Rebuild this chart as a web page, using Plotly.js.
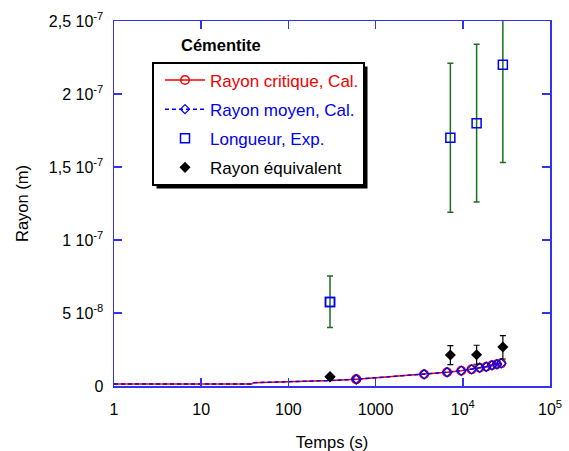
<!DOCTYPE html>
<html><head><meta charset="utf-8">
<script src="https://cdn.plot.ly/plotly-3.0.1.min.js"></script>
<style>html,body{margin:0;padding:0;background:#fff}#c{width:569px;height:451px}</style>
</head><body><div id="c"></div>
<script>
// Calculated curves (time in s, radius in m)
const calcT = [1, 38, 40, 100, 300, 600, 3600, 6600, 9600, 12600, 15600, 18600, 21600, 24600, 27600];
const critR = [1.4e-9, 1.4e-9, 2.3e-9, 2.8e-9, 3.7e-9, 4.6e-9, 8.0e-9, 9.4e-9, 1.05e-8, 1.14e-8, 1.25e-8, 1.32e-8, 1.42e-8, 1.49e-8, 1.55e-8];
const moyR  = [1.4e-9, 1.4e-9, 2.3e-9, 2.8e-9, 3.7e-9, 4.6e-9, 8.0e-9, 9.4e-9, 1.05e-8, 1.14e-8, 1.25e-8, 1.32e-8, 1.42e-8, 1.49e-8, 1.55e-8];
const markT = [600, 3600, 6600, 9600, 12600, 15600, 18600, 21600, 24600, 27600];
const markCrit = [4.6e-9, 8.0e-9, 9.4e-9, 1.05e-8, 1.14e-8, 1.25e-8, 1.32e-8, 1.42e-8, 1.49e-8, 1.55e-8];
const markMoy  = [4.6e-9, 8.0e-9, 9.4e-9, 1.05e-8, 1.14e-8, 1.25e-8, 1.32e-8, 1.42e-8, 1.49e-8, 1.55e-8];
// Experimental length
const expT  = [300, 7200, 14400, 28800];
const expL  = [5.75e-8, 1.70e-7, 1.80e-7, 2.20e-7];
const expHi = [7.53e-8, 2.21e-7, 2.34e-7, 2.87e-7];
const expLo = [4.0e-8, 1.19e-7, 1.26e-7, 1.53e-7];
// Equivalent radius
const eqT  = [300, 7200, 14400, 28800];
const eqR  = [6.4e-9, 2.12e-8, 2.14e-8, 2.67e-8];
const eqHi = [6.4e-9, 2.77e-8, 2.79e-8, 3.45e-8];
const eqLo = [6.4e-9, 1.47e-8, 1.49e-8, 1.85e-8];
// Labels
const seriesNames = ['Rayon critique, Cal.', 'Rayon moyen, Cal.', 'Longueur, Exp.', 'Rayon équivalent'];
const xTickVals = [1, 10, 100, 1000, 10000, 100000];
const xTickText = ['1', '10', '100', '1000', '10<sup>4</sup>', '10<sup>5</sup>'];
const yTickVals = [0, 5e-8, 1e-7, 1.5e-7, 2e-7, 2.5e-7];
const yTickText = ['0', '5 10<sup>-8</sup>', '1 10<sup>-7</sup>', '1,5 10<sup>-7</sup>', '2 10<sup>-7</sup>', '2,5 10<sup>-7</sup>'];
const legendTitle = 'Cémentite';
const xTitle = 'Temps (s)';
const yTitle = 'Rayon (m)';

const RED = 'rgb(240,0,0)', BLUE = 'rgb(0,0,245)', GREEN = 'rgb(30,110,30)';
const axisBlue = 'rgb(50,50,240)';

const sub = (a, b) => a.map((v, i) => v - b[i]);

const traces = [
  {x: calcT, y: critR, mode: 'lines', line: {color: RED, width: 1.5}, showlegend: false, hoverinfo: 'skip'},
  {x: calcT, y: moyR, mode: 'lines', line: {color: BLUE, width: 1.5, dash: '4px,3px'}, showlegend: false, hoverinfo: 'skip'},
  {x: markT, y: markCrit, mode: 'markers', marker: {symbol: 'circle-open', size: 8.5, color: RED, line: {width: 1.5, color: RED}}, showlegend: false},
  {x: markT, y: markMoy, mode: 'markers', marker: {symbol: 'diamond-open', size: 7, color: BLUE, line: {width: 1.3, color: BLUE}}, showlegend: false},
  {x: expT, y: expL, mode: 'markers', marker: {symbol: 'square-open', size: 9, color: BLUE, line: {width: 1.5, color: BLUE}},
   error_y: {type: 'data', symmetric: false, array: sub(expHi, expL), arrayminus: sub(expL, expLo), color: GREEN, thickness: 1.5, width: 3}, showlegend: false},
  {x: eqT, y: eqR, mode: 'markers', marker: {symbol: 'diamond', size: 8.5, color: 'black'},
   error_y: {type: 'data', symmetric: false, array: sub(eqHi, eqR), arrayminus: sub(eqR, eqLo), color: 'black', thickness: 1.2, width: 3}, showlegend: false},
  // legend entries (drawn exactly on top of an existing point)
  {x: [markT[0]], y: [markCrit[0]], mode: 'lines+markers', name: '<span style="color:' + RED + '">' + seriesNames[0] + '</span>', legendgroup: 'a',
   line: {color: RED, width: 1.5}, marker: {symbol: 'circle-open', size: 8.5, color: RED, line: {width: 1.5, color: RED}}},
  {x: [markT[0]], y: [markMoy[0]], mode: 'lines+markers', name: '<span style="color:' + BLUE + '">' + seriesNames[1] + '</span>', legendgroup: 'b',
   line: {color: BLUE, width: 1.5, dash: '4px,3px'}, marker: {symbol: 'diamond-open', size: 7, color: BLUE, line: {width: 1.3, color: BLUE}}},
  {x: [expT[0]], y: [expL[0]], mode: 'markers', name: '<span style="color:' + BLUE + '">' + seriesNames[2] + '</span>', legendgroup: 'c',
   marker: {symbol: 'square-open', size: 9, color: BLUE, line: {width: 1.5, color: BLUE}}},
  {x: [eqT[0]], y: [eqR[0]], mode: 'markers', name: seriesNames[3], legendgroup: 'd',
   marker: {symbol: 'diamond', size: 8.5, color: 'black'}}
];

const px = v => (v - 114) / 436;
const py = v => (386 - v) / 365;

const layout = {
  width: 569, height: 451,
  margin: {l: 114, r: 19, t: 21, b: 65},
  paper_bgcolor: 'white', plot_bgcolor: 'white',
  font: {family: '"Liberation Sans", Arial, sans-serif', size: 16, color: 'black'},
  showlegend: true,
  legend: {x: px(160), y: py(62.5), xanchor: 'left', yanchor: 'top', bgcolor: 'rgba(0,0,0,0)', borderwidth: 0,
           font: {size: 17, color: 'black'}, traceorder: 'grouped', tracegroupgap: 4, itemwidth: 40},
  xaxis: {type: 'log', range: [0, 5], tickvals: xTickVals, ticktext: xTickText, ticks: 'inside', ticklen: 8, tickwidth: 1.5,
          tickcolor: axisBlue, showline: true, linecolor: axisBlue, linewidth: 1.5, mirror: 'ticks', showgrid: false, zeroline: false,
          title: {text: xTitle, font: {size: 16.5}, standoff: 22}, tickfont: {size: 16}, ticklabelstandoff: 8},
  yaxis: {range: [0, 2.5e-7], tickvals: yTickVals, ticktext: yTickText, ticks: 'inside', ticklen: 8, tickwidth: 1.5,
          tickcolor: axisBlue, showline: true, linecolor: axisBlue, linewidth: 1.5, mirror: 'ticks', showgrid: false, zeroline: false,
          title: {text: yTitle, font: {size: 16.5}, standoff: 16}, tickfont: {size: 16}, ticklabelstandoff: 6},
  shapes: [
    {type: 'rect', xref: 'paper', yref: 'paper', x0: px(156.5), x1: px(367.5), y0: py(188.5), y1: py(66.5), fillcolor: 'black', line: {width: 0}, layer: 'above'},
    {type: 'rect', xref: 'paper', yref: 'paper', x0: px(153), x1: px(364), y0: py(185), y1: py(63), fillcolor: 'white', line: {width: 2, color: 'black'}, layer: 'above'}
  ],
  annotations: [
    {text: '<b>' + legendTitle + '</b>', xref: 'paper', yref: 'paper', x: px(220.5), y: py(45), xanchor: 'center', yanchor: 'middle', showarrow: false, font: {size: 16.5}}
  ]
};

Plotly.newPlot('c', traces, layout, {displayModeBar: false, staticPlot: true});
</script></body></html>
